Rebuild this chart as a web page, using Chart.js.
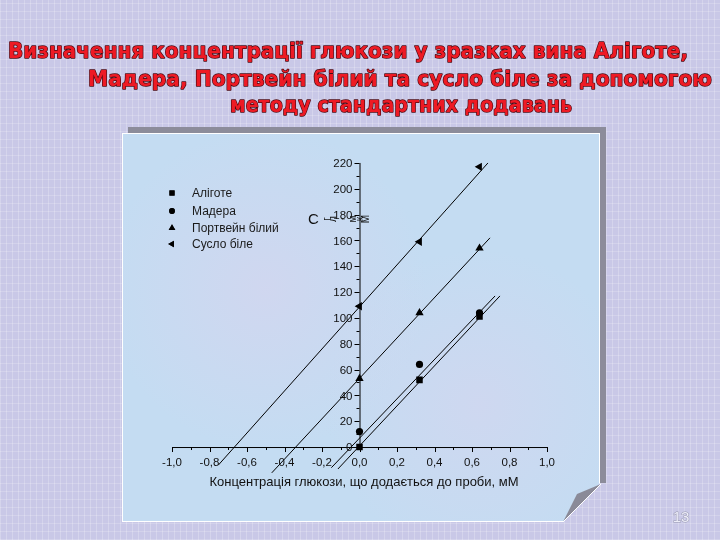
<!DOCTYPE html>
<html>
<head>
<meta charset="utf-8">
<script src="https://cdn.jsdelivr.net/npm/chart.js@4.4.1/dist/chart.umd.min.js"></script>
<style>
  html, body { margin: 0; padding: 0; }
  body {
    width: 720px; height: 540px; overflow: hidden; position: relative;
    background-color: #c9c8e7;
    background-image:
      repeating-linear-gradient(90deg, rgba(255,255,255,0.22) 0 1px, transparent 1px 6px),
      repeating-linear-gradient(0deg, rgba(255,255,255,0.18) 0 1px, transparent 1px 8px);
  }
  #shadow {
    position: absolute; left: 128px; top: 127px; width: 478px; height: 356px;
    background: #8c8c9a;
  }
  #panel {
    position: absolute; left: 122px; top: 133px; width: 476px; height: 387px;
    background-color: #c4dcf2;
    background-image:
      radial-gradient(circle at 30% 40%, rgba(230,205,235,0.35), transparent 40%),
      radial-gradient(circle at 75% 70%, rgba(230,205,235,0.3), transparent 35%);
    border: 1px solid #fff;
    clip-path: polygon(0 0, 100% 0, 100% 350px, 441px 100%, 0 100%);
  }
  #curl { position: absolute; left: 0; top: 0; }
  #chart { position: absolute; left: 0; top: 0; }
</style>
</head>
<body>
<div id="shadow"></div>
<div id="panel"></div>
<svg id="curl" width="720" height="540">
  <polygon points="563,522 601,484 577,494" fill="#8a8a98"/>
  <line x1="563" y1="522" x2="601" y2="484" stroke="#ffffff" stroke-width="1"/>
</svg>
<canvas id="chart" width="720" height="540"></canvas>
<script>
// Data
const xTicks = [-1.0, -0.8, -0.6, -0.4, -0.2, 0.0, 0.2, 0.4, 0.6, 0.8, 1.0];
const yTicks = [0, 20, 40, 60, 80, 100, 120, 140, 160, 180, 200, 220];
const seriesNames = ['Аліготе', 'Мадера', 'Портвейн білий', 'Сусло біле'];
const addedConc = [0, 0.32, 0.64];
const aligote = [0, 52, 101];
const madera = [12, 64, 104];
const portvein = [53, 104, 154];
const suslo = [109, 159, 217];
// fitted lines, start and end
const aligoteLineX = [-0.115, 0.749];
const aligoteLineY = [-17, 117];
const maderaLineX = [-0.15, 0.723];
const maderaLineY = [-16, 117];
const portveinLineX = [-0.468, 0.696];
const portveinLineY = [-20, 162];
const susloLineX = [-0.753, 0.685];
const susloLineY = [-14, 220];

const titleLines = [
  'Визначення концентрації глюкози у зразках вина Аліготе,',
  'Мадера, Портвейн білий та сусло біле за допомогою',
  'методу стандартних додавань'
];
const xTitle = 'Концентрація глюкози, що додається до проби, мМ';

function pts(xs, ys) {
  return xs.map((x, i) => ({ x: x, y: ys[i] }));
}

const markerStyles = [
  { pointStyle: 'rect', radius: 4.6, rotation: 0 },
  { pointStyle: 'circle', radius: 3.6, rotation: 0 },
  { pointStyle: 'triangle', radius: 4.8, rotation: 0 },
  { pointStyle: 'triangle', radius: 4.8, rotation: -90 }
];
const pointSeries = [aligote, madera, portvein, suslo];
const lineSeries = [
  [aligoteLineX, aligoteLineY],
  [maderaLineX, maderaLineY],
  [portveinLineX, portveinLineY],
  [susloLineX, susloLineY]
];

const datasets = [];
lineSeries.forEach(function (l) {
  datasets.push({
    type: 'line', data: pts(l[0], l[1]),
    borderColor: '#000', borderWidth: 1, pointRadius: 0, fill: false
  });
});
pointSeries.forEach(function (s, i) {
  datasets.push({
    type: 'scatter', label: seriesNames[i], data: pts(addedConc, s),
    pointStyle: markerStyles[i].pointStyle,
    pointRadius: markerStyles[i].radius,
    rotation: markerStyles[i].rotation,
    backgroundColor: '#000', borderColor: '#000', borderWidth: 0
  });
});

function fmt(v) {
  return (Math.abs(v) < 1e-9 ? 0 : v).toFixed(1).replace('.', ',');
}

const tickFont = '11.5px "Liberation Sans", Arial, sans-serif';

const decor = {
  id: 'decor',
  afterDraw(chart) {
    const ctx = chart.ctx;
    const xs = chart.scales.x, ys = chart.scales.y;
    const x0 = xs.getPixelForValue(0), y0 = ys.getPixelForValue(0);
    ctx.save();
    ctx.strokeStyle = '#000';
    ctx.lineWidth = 1;
    // axis lines
    ctx.beginPath();
    ctx.moveTo(xs.getPixelForValue(xTicks[0]), y0 + 0.5);
    ctx.lineTo(xs.getPixelForValue(xTicks[xTicks.length - 1]), y0 + 0.5);
    ctx.moveTo(x0 + 0.5, y0);
    ctx.lineTo(x0 + 0.5, ys.getPixelForValue(yTicks[yTicks.length - 1]));
    ctx.stroke();
    // major and minor ticks
    ctx.beginPath();
    xTicks.forEach(function (v, i) {
      const p = Math.round(xs.getPixelForValue(v)) + 0.5;
      ctx.moveTo(p, y0); ctx.lineTo(p, y0 + 5);
      if (i < xTicks.length - 1) {
        const m = Math.round(xs.getPixelForValue((v + xTicks[i + 1]) / 2)) + 0.5;
        ctx.moveTo(m, y0); ctx.lineTo(m, y0 + 3);
      }
    });
    yTicks.forEach(function (v, i) {
      const p = Math.round(ys.getPixelForValue(v)) + 0.5;
      ctx.moveTo(x0, p); ctx.lineTo(x0 - 5, p);
      if (i < yTicks.length - 1) {
        const m = Math.round(ys.getPixelForValue((v + yTicks[i + 1]) / 2)) + 0.5;
        ctx.moveTo(x0, m); ctx.lineTo(x0 - 3, m);
      }
    });
    ctx.stroke();

    // tick labels
    ctx.fillStyle = '#111';
    ctx.font = tickFont;
    ctx.textBaseline = 'middle';
    ctx.textAlign = 'center';
    xTicks.forEach(function (v) {
      ctx.fillText(fmt(v), xs.getPixelForValue(v), y0 + 16);
    });
    ctx.textAlign = 'right';
    yTicks.forEach(function (v) {
      ctx.fillText(String(v), x0 - 7, ys.getPixelForValue(v) + 1);
    });

    // legend
    ctx.textAlign = 'left';
    ctx.font = '12px "Liberation Sans", Arial, sans-serif';
    const rowY = [193, 211, 228, 244];
    seriesNames.forEach(function (name, i) {
      const ms = markerStyles[i];
      Chart.helpers.drawPoint(ctx, {
        pointStyle: ms.pointStyle, radius: ms.radius * 0.8,
        rotation: ms.rotation, borderWidth: 0
      }, 172, rowY[i]);
      ctx.fillStyle = '#000';
      ctx.fill();
      ctx.fillStyle = '#1a1a1a';
      ctx.fillText(name, 192, rowY[i] + 1);
    });

    // x axis title
    ctx.fillStyle = '#111';
    ctx.textAlign = 'center';
    ctx.font = '13px "Liberation Sans", Arial, sans-serif';
    ctx.fillText(xTitle, 364, 482);

    // garbled y axis label over the axis
    ctx.textAlign = 'left';
    ctx.font = '15px "Liberation Sans", Arial, sans-serif';
    ctx.fillText('С', 308, 220);
    ctx.font = '10px "Liberation Sans", Arial, sans-serif';
    const yl = ['г', 'л', ',', ' ', 'м', 'к', 'М'];
    yl.forEach(function (ch, i) {
      ctx.save();
      ctx.translate(327 + i * 6.6, 219);
      ctx.rotate(-Math.PI / 2);
      ctx.textAlign = 'center';
      ctx.fillText(ch, 0, 0);
      ctx.restore();
    });

    // title
    const tSpec = [[8, 688, 58], [88, 712, 86], [230, 572, 112]];
    ctx.font = 'bold 21px "DejaVu Sans", sans-serif';
    ctx.textAlign = 'left';
    ctx.textBaseline = 'alphabetic';
    titleLines.forEach(function (t, i) {
      const s = tSpec[i];
      const w = ctx.measureText(t).width;
      ctx.save();
      ctx.translate(s[0], s[2]);
      ctx.scale((s[1] - s[0]) / w, 1);
      ctx.lineJoin = 'round';
      ctx.lineWidth = 1.4;
      ctx.strokeStyle = '#4a0810';
      ctx.strokeText(t, 0, 0);
      ctx.fillStyle = '#ee1a24';
      ctx.fillText(t, 0, 0);
      ctx.restore();
    });

    // slide number
    ctx.font = '15px "Liberation Sans", Arial, sans-serif';
    ctx.textAlign = 'center';
    ctx.textBaseline = 'middle';
    ctx.lineWidth = 1;
    ctx.strokeStyle = '#9a9ab0';
    ctx.strokeText('13', 681, 518);
    ctx.fillStyle = '#ececf8';
    ctx.fillText('13', 681, 518);
    ctx.restore();
  }
};

new Chart(document.getElementById('chart').getContext('2d'), {
  data: { datasets: datasets },
  options: {
    responsive: false,
    animation: false,
    events: [],
    layout: { padding: { left: 172, right: 173, top: 156.5, bottom: 60.7 } },
    plugins: { legend: { display: false }, tooltip: { enabled: false } },
    scales: {
      x: {
        type: 'linear', min: -1.0, max: 1.0,
        position: { y: 0 },
        afterBuildTicks: function (s) { s.ticks = xTicks.map(v => ({ value: v })); },
        grid: { display: false },
        border: { display: false },
        ticks: { display: false }
      },
      y: {
        type: 'linear', min: -25, max: 225,
        position: { x: 0 },
        afterBuildTicks: function (s) { s.ticks = yTicks.map(v => ({ value: v })); },
        grid: { display: false },
        border: { display: false },
        ticks: { display: false }
      }
    }
  },
  plugins: [decor]
});
</script>
</body>
</html>
